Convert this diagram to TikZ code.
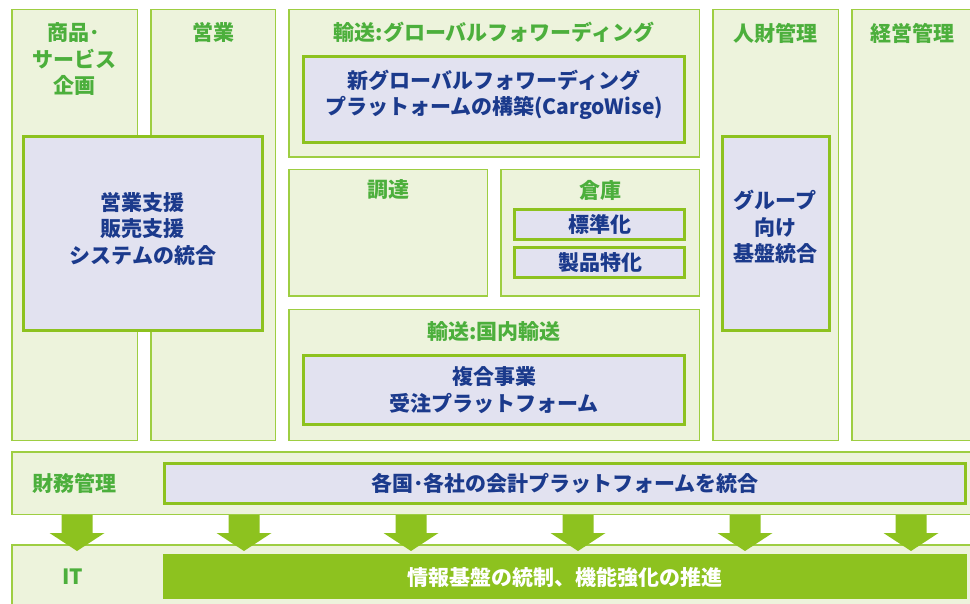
\documentclass[tikz,border=0pt]{standalone}
\usepackage{fontspec}
\setmainfont{Noto Sans CJK JP}
\usetikzlibrary{fit}
\definecolor{ofill}{RGB}{237,243,220}
\definecolor{obord}{RGB}{158,206,66}
\definecolor{ifill}{RGB}{226,226,240}
\definecolor{ibord}{RGB}{141,194,31}
\definecolor{gtext}{RGB}{76,175,60}
\definecolor{navy}{RGB}{27,58,140}
\definecolor{itgreen}{RGB}{141,194,31}
\begin{document}
\begin{tikzpicture}[x=1pt,y=-1pt,
  obox/.style={draw=obord, fill=ofill, line width=1.5pt, inner sep=0pt, outer sep=0pt},
  ibox/.style={draw=ibord, fill=ifill, line width=3pt, inner sep=0pt, outer sep=0pt},
  itbar/.style={fill=itgreen, inner sep=0pt, outer sep=0pt},
  txt/.style={font=\bfseries\fontsize{21}{26.5}\selectfont, align=center, inner sep=0pt},
  head/.style={txt, text=gtext},
  body/.style={txt, text=navy},
  wtext/.style={txt, text=white},
  arrowc/.style={fill=itgreen}]
\useasboundingbox (0,0) rectangle (970,604);
% outer boxes
\node[obox, fit={(11.75,9.75)(137.25,440.25)}] (col1) {};
\node[obox, fit={(150.75,9.75)(275.25,440.25)}] (col2) {};
\node[obox, fit={(288.75,9.75)(699.25,157.25)}] (glob) {};
\node[obox, fit={(288.75,169.75)(487.25,296.25)}] (proc) {};
\node[obox, fit={(500.75,169.75)(699.25,296.25)}] (ware) {};
\node[obox, fit={(288.75,309.75)(699.25,440.25)}] (dom) {};
\node[obox, fit={(712.75,9.75)(838.25,440.25)}] (hr) {};
\node[obox, fit={(851.75,9.75)(990,440.25)}] (mgmt) {};
\node[obox, fit={(11.75,451.75)(990,514.25)}] (fin) {};
\node[obox, fit={(11.75,544.75)(990,620)}] (it) {};
% inner boxes
\node[ibox, fit={(23.5,136.5)(262.5,330.5)}] (sales) {};
\node[ibox, fit={(303.5,56.5)(684.5,142.5)}] (cw) {};
\node[ibox, fit={(514.5,209.5)(684.5,239.5)}] (std) {};
\node[ibox, fit={(514.5,247.5)(684.5,277.5)}] (prod) {};
\node[ibox, fit={(303.5,355.5)(684.5,424.5)}] (order) {};
\node[ibox, fit={(722.5,136.5)(829.5,330.5)}] (grp) {};
\node[ibox, fit={(164.5,463.5)(965.5,503.5)}] (acct) {};
\node[itbar, fit={(163,554)(967,599)}] (itb) {};
% arrows
\foreach \c in {77,244,411,578,745,911}
  \fill[arrowc] ({\c-15.5},515) -- ({\c+15.5},515) -- ({\c+15.5},533) -- ({\c+27.5},533)
     -- (\c,551) -- ({\c-27.5},533) -- ({\c-15.5},533) -- cycle;
% texts
\node[head] (t1) at (74,59.5) {商品･\\サービス\\企画};
\node[head] (t2) at (213,33) {営業};
\node[head] (t3) at (494,32) {輸送:グローバルフォワーディング};
\node[body] (t4) at (494,95) {新グローバルフォワーディング\\プラットォームの構築(CargoWise)};
\node[head] (t5) at (775,33) {人財管理};
\node[head] (t6) at (912,33) {経営管理};
\node[body] (t7) at (143,228.5) {営業支援\\販売支援\\システムの統合};
\node[head] (t8) at (388,190) {調達};
\node[head] (t9) at (600,190) {倉庫};
\node[body] (t10) at (600,224) {標準化};
\node[body] (t11) at (600,263) {製品特化};
\node[body] (t12) at (775,227) {グループ\\向け\\基盤統合};
\node[head] (t13) at (494,332) {輸送:国内輸送};
\node[body] (t14) at (494,390) {複合事業\\受注プラットフォーム};
\node[head] (t15) at (74,483) {財務管理};
\node[body] (t16) at (565,483) {各国･各社の会計プラットフォームを統合};
\node[head] (t17) at (73,577) {IT};
\node[wtext] (t18) at (565,577) {情報基盤の統制、機能強化の推進};
\end{tikzpicture}
\end{document}
